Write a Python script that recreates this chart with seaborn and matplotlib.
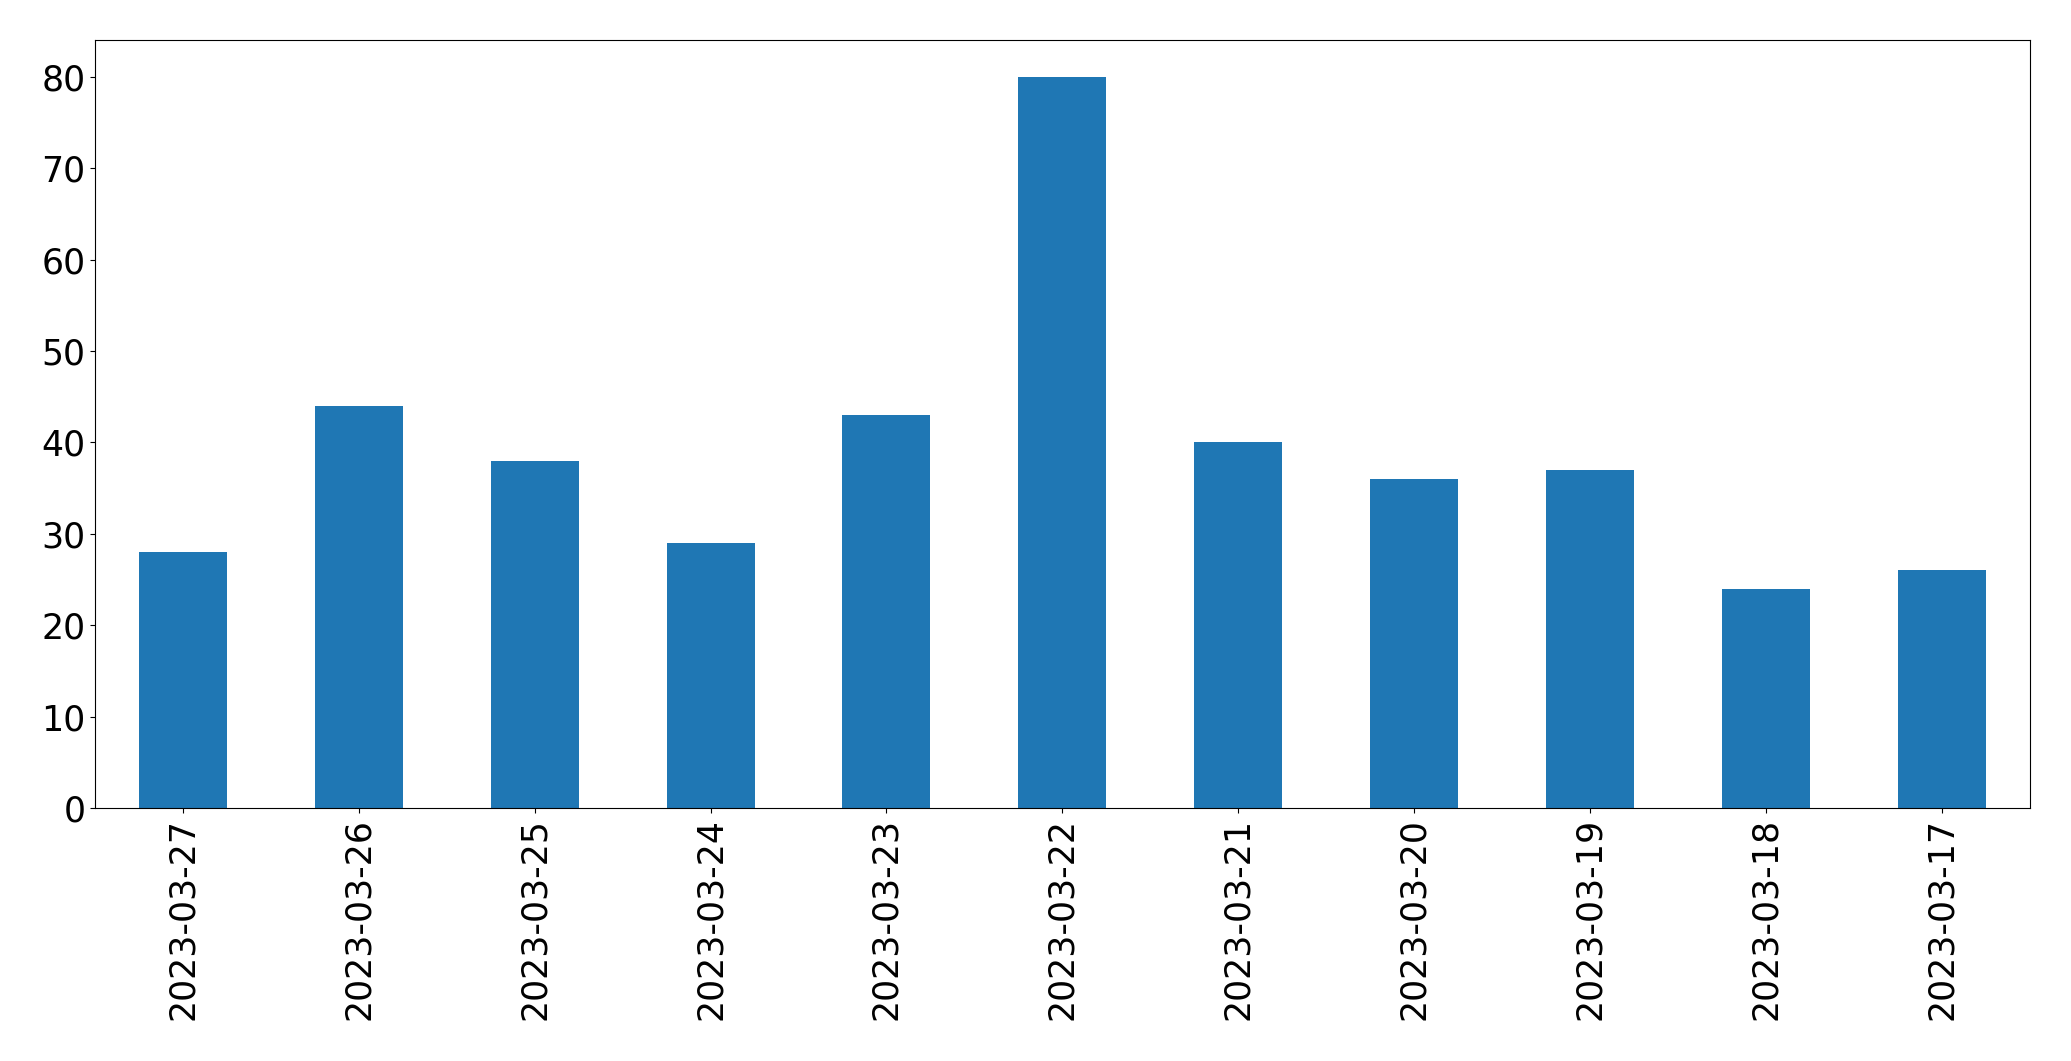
import seaborn as sns
import matplotlib.pyplot as plt
import pandas as pd

# dane
dates = ['2023-03-27', '2023-03-26', '2023-03-25', '2023-03-24', '2023-03-23',
         '2023-03-22', '2023-03-21', '2023-03-20', '2023-03-19', '2023-03-18',
         '2023-03-17']
counts = [28, 44, 38, 29, 43, 80, 40, 36, 37, 24, 26]

df = pd.DataFrame({'date': dates, 'count': counts})

sns.set_style('ticks', {'text.color': 'black', 'xtick.color': 'black',
                        'ytick.color': 'black', 'axes.edgecolor': 'black'})
plt.rcParams['font.family'] = ['DejaVu Sans']

fig = plt.figure(figsize=(20.71, 10.61), dpi=100)
ax = fig.add_axes([0.0459, 0.2385, 0.9341, 0.7235])

sns.barplot(x='date', y='count', data=df, color='#1f77b4', saturation=1,
            width=0.5, errorbar=None, ax=ax, linewidth=0)

ax.set_xlim(-0.5, 10.5)
ax.set_ylim(0, 84)
ax.set_yticks([0, 10, 20, 30, 40, 50, 60, 70, 80])
ax.set_xlabel('')
ax.set_ylabel('')
ax.tick_params(axis='x', labelrotation=90, labelsize=25, colors='black')
ax.tick_params(axis='y', labelsize=25, colors='black')
for s in ax.spines.values():
    s.set_linewidth(0.8)
    s.set_color('black')

plt.savefig('out.png', dpi=100)
